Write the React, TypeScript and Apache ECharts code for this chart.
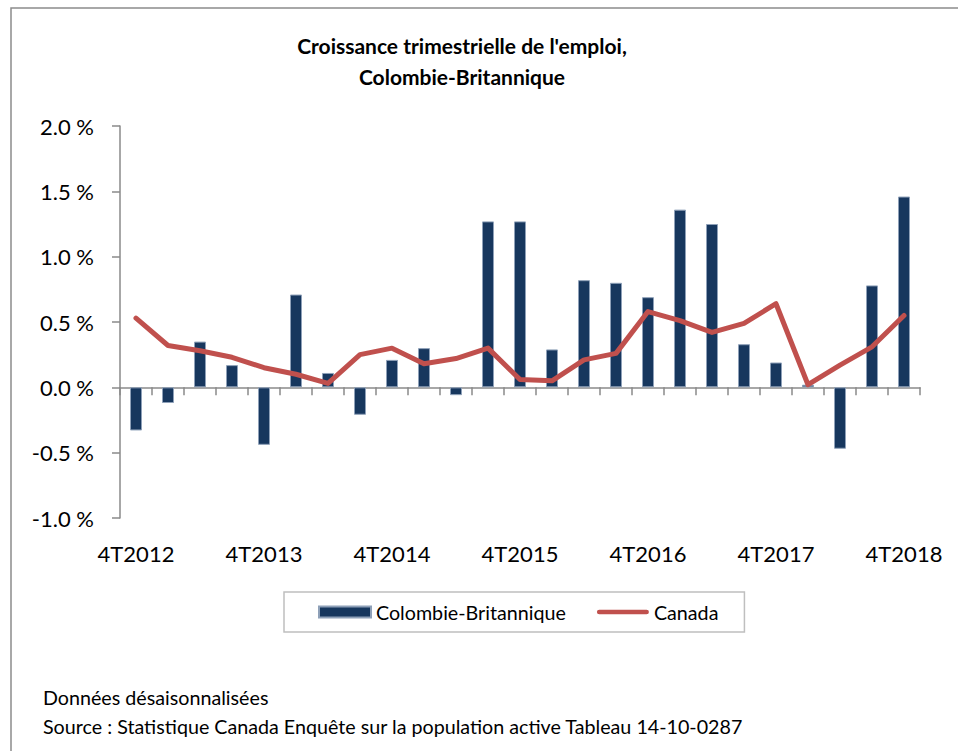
import React, { useEffect, useRef } from "react";
import * as echarts from "echarts";

const quarters = [
  "4T2012", "1T2013", "2T2013", "3T2013", "4T2013",
  "1T2014", "2T2014", "3T2014", "4T2014",
  "1T2015", "2T2015", "3T2015", "4T2015",
  "1T2016", "2T2016", "3T2016", "4T2016",
  "1T2017", "2T2017", "3T2017", "4T2017",
  "1T2018", "2T2018", "3T2018", "4T2018",
];

const colombieBritannique = [
  -0.33, -0.12, 0.35, 0.17, -0.44, 0.71, 0.11, -0.21, 0.21, 0.3, -0.06, 1.27,
  1.27, 0.29, 0.82, 0.8, 0.69, 1.36, 1.25, 0.33, 0.19, 0.02, -0.47, 0.78, 1.46,
];

const canada = [
  0.53, 0.32, 0.28, 0.23, 0.15, 0.1, 0.03, 0.25, 0.3, 0.18, 0.22, 0.3, 0.06,
  0.05, 0.21, 0.26, 0.58, 0.51, 0.42, 0.49, 0.64, 0.02, 0.17, 0.31, 0.55,
];

const titleLines = ["Croissance trimestrielle de l'emploi,", "Colombie-Britannique"];
const footerLines = [
  "Données désaisonnalisées",
  "Source : Statistique Canada Enquête sur la population active Tableau 14-10-0287",
];

const FONT = "Lato, 'Open Sans', sans-serif";
const AXIS_COLOR = "#8a8a8a";

export default function App() {
  const ref = useRef<HTMLDivElement>(null);

  useEffect(() => {
    if (!ref.current) return;
    const chart = echarts.init(ref.current, null, { renderer: "svg" });
    const option: any = {
      animation: false,
      backgroundColor: "#ffffff",
      textStyle: { fontFamily: FONT },
      graphic: [
        {
          type: "rect",
          shape: { x: 11, y: 8, width: 960, height: 760 },
          style: { fill: "none", stroke: "#8c8c8c", lineWidth: 1.5 },
          silent: true,
        },
        ...titleLines.map((t, i) => ({
          type: "text",
          x: 462,
          y: 45 + i * 31,
          style: {
            text: t,
            fontFamily: FONT,
            fontWeight: "bold",
            fontSize: 21,
            fill: "#000",
            textAlign: "center",
            textVerticalAlign: "middle",
          },
        })),
        ...footerLines.map((t, i) => ({
          type: "text",
          x: 43,
          y: 697 + i * 29,
          style: {
            text: t,
            fontFamily: FONT,
            fontSize: 19.7,
            fill: "#000",
            textAlign: "left",
            textVerticalAlign: "middle",
          },
        })),
      ],
      legend: {
        left: 284,
        top: 592,
        orient: "horizontal",
        itemWidth: 52,
        itemHeight: 11,
        itemGap: 31,
        padding: [10, 26, 10, 34],
        borderColor: "#bfbfbf",
        borderWidth: 1.5,
        textStyle: { fontFamily: FONT, fontSize: 19.7, color: "#000" },
        data: [
          { name: "Colombie-Britannique", icon: "rect" },
          {
            name: "Canada",
            icon: "path://M2.5,0 L52.5,0 A2.5,2.5 0 0 1 52.5,5 L2.5,5 A2.5,2.5 0 0 1 2.5,0 Z",
          },
        ],
      },
      grid: { left: 120, top: 126, width: 800, height: 392 },
      xAxis: [
        {
          type: "category",
          position: "top",
          data: quarters,
          boundaryGap: true,
          axisLine: { show: true, onZero: true, lineStyle: { color: AXIS_COLOR, width: 1.5 } },
          axisTick: { show: true, inside: true, length: 8, interval: 0, lineStyle: { color: AXIS_COLOR, width: 1.5 } },
          axisLabel: { show: false },
          splitLine: { show: false },
        },
        {
          type: "category",
          position: "bottom",
          data: quarters,
          boundaryGap: true,
          axisLine: { show: false, onZero: false },
          axisTick: { show: false },
          axisLabel: {
            show: true,
            interval: 3,
            margin: 24,
            fontFamily: FONT,
            fontSize: 22,
            color: "#000",
          },
          splitLine: { show: false },
        },
      ],
      yAxis: {
        type: "value",
        min: -1,
        max: 2,
        interval: 0.5,
        axisLine: { show: true, lineStyle: { color: AXIS_COLOR, width: 1.5 } },
        axisTick: { show: true, length: 8, lineStyle: { color: AXIS_COLOR, width: 1.5 } },
        splitLine: { show: false },
        axisLabel: {
          margin: 26,
          fontFamily: FONT,
          fontSize: 22,
          color: "#000",
          formatter: (v: number) => v.toFixed(1) + " %",
        },
      },
      series: [
        {
          name: "Colombie-Britannique",
          type: "bar",
          xAxisIndex: 0,
          data: colombieBritannique,
          barWidth: 12,
          itemStyle: { color: "#17375E", borderColor: "#8ea0b8", borderWidth: 1 },
        },
        {
          name: "Canada",
          type: "line",
          xAxisIndex: 0,
          data: canada,
          symbol: "none",
          showSymbol: false,
          itemStyle: { color: "#C0504D" },
          lineStyle: { color: "#C0504D", width: 5, cap: "round", join: "round" },
        },
      ],
    };
    chart.setOption(option);
    return () => chart.dispose();
  }, []);

  return (
    <div
      ref={ref}
      style={{ position: "absolute", left: 0, top: 0, width: 958, height: 751 }}
    />
  );
}
